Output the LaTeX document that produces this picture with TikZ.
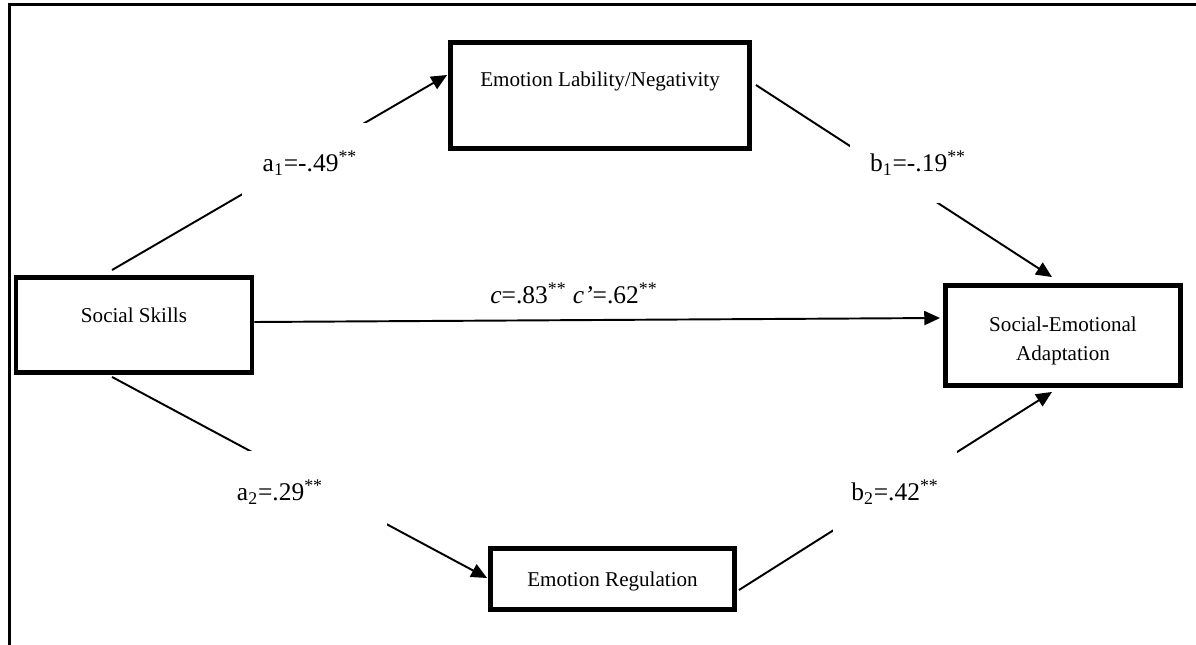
\documentclass[tikz,border=0pt]{standalone}
\usepackage{fontspec}
\setmainfont{Liberation Serif}
\usetikzlibrary{arrows.meta,calc}

\begin{document}
\begin{tikzpicture}[
    x=0.02cm, y=-0.02cm,
    construct/.style={draw, line width=2.8pt, fill=white, align=center, inner sep=0pt, font=\fontsize{12}{16}\selectfont, text height=8pt},
    coef/.style={fill=white, inner sep=0pt, font=\fontsize{14.5}{17}\selectfont},
    effect/.style={-{Triangle[length=9pt,width=8pt]}, line width=1.1pt}
]
\useasboundingbox (0,0) rectangle (1196,645);
\draw[line width=1.3pt] (9.5,645) |- (1196,4.5);

\node[construct, minimum width=4.72cm, minimum height=1.9cm, text depth=11.4pt] (skills) at (134,325) {Social Skills};
\node[construct, minimum width=5.98cm, minimum height=2.12cm, text depth=17.7pt] (lability) at (600,95.5) {Emotion Lability/Negativity};
\node[construct, minimum width=4.7cm, minimum height=2.0cm, text height=28pt, text depth=0pt] (adapt) at (1063,335.5) {Social-Emotional\\Adaptation};
\node[construct, minimum width=4.88cm, minimum height=1.22cm, text depth=0pt] (regul) at (612.5,579) {Emotion Regulation};

% paths through the mediators
\draw[effect] ($(skills.north)+(-22,-5)$) -- ($(lability.west)+(-1,-20.5)$);
\draw[effect] ($(lability.east)+(4,-10.5)$) -- ($(adapt.north)+(-11,-6)$);
\draw[effect] ($(skills.south)+(-22,2)$) -- ($(regul.west)+(-1,-1)$);
\draw[effect] ($(regul.east)+(2,11)$) -- ($(adapt.south)+(-11,4)$);
% direct path
\draw[effect] ($(skills.east)+(0,-3)$) -- ($(adapt.west)+(-3,-17.5)$);

\node[coef, minimum width=2.72cm, minimum height=1.6cm] (a1) at (310,163) {a\textsubscript{1}=-.49\textsuperscript{**}};
\node[coef, minimum width=2.72cm, minimum height=1.6cm] (b1) at (918,163) {b\textsubscript{1}=-.19\textsuperscript{**}};
\node[coef, minimum width=4.28cm, minimum height=1.64cm] (a2) at (280,492) {a\textsubscript{2}=.29\textsuperscript{**}};
\node[coef, minimum width=2.48cm, minimum height=1.64cm] (b2) at (895,492) {b\textsubscript{2}=.42\textsuperscript{**}};
\node[coef, fill=none] (c) at (574,293) {\textit{c}=.83\textsuperscript{**} \textit{c’}=.62\textsuperscript{**}};
\end{tikzpicture}
\end{document}
